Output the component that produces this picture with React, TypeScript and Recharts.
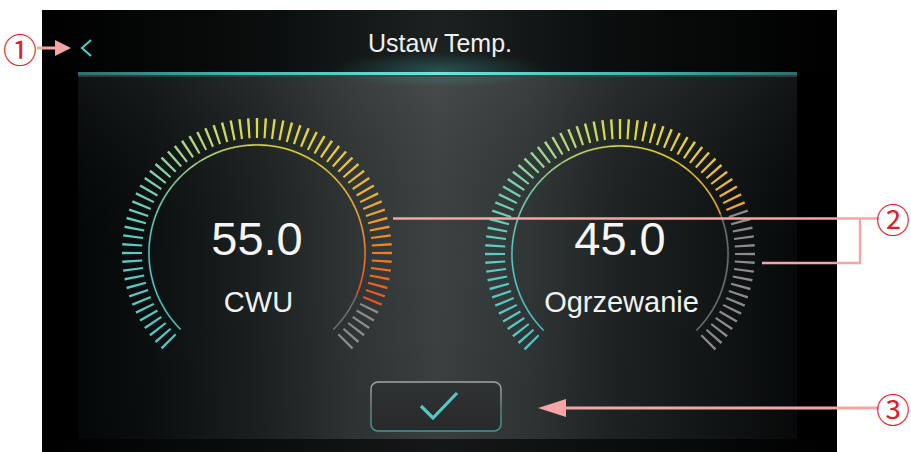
import React from 'react';
import { PieChart, Pie, Cell } from 'recharts';

const W = 911;
const H = 452;

// ---- data ----
const gaugeNames = ['CWU', 'Ogrzewanie'];
const gaugeValues = [55.0, 45.0];
const gaugeMin = 0;
const gaugeMax = 60;
const TICK_COUNT = 73;
const titleText = 'Ustaw Temp.';
const calloutLabels = ['①', '②', '③'];

// gauge geometry (layout)
const gaugeCenters = [
  { cx: 257, cy: 253 },
  { cx: 620, cy: 254 },
];
const START = 225;
const END = -45;
const TICK_W = 1.05;
const TICK_STEP = (START - END) / (TICK_COUNT - 1);

const colorStops: [number, string][] = [
  [0, '#4fc6c6'],
  [0.167, '#5acac4'],
  [0.278, '#72cfb0'],
  [0.333, '#90d49c'],
  [0.389, '#b0d880'],
  [0.444, '#c8da60'],
  [0.5, '#dcdc40'],
  [0.611, '#e8d232'],
  [0.722, '#f0b232'],
  [0.796, '#f0922c'],
  [0.833, '#f07c28'],
  [0.87, '#f06a24'],
  [0.907, '#ec5420'],
  [1, '#e84018'],
];

function hexToRgb(h: string) {
  const n = parseInt(h.slice(1), 16);
  return [(n >> 16) & 255, (n >> 8) & 255, n & 255];
}
function colorAt(f: number) {
  for (let i = 0; i < colorStops.length - 1; i++) {
    const [f0, c0] = colorStops[i];
    const [f1, c1] = colorStops[i + 1];
    if (f >= f0 && f <= f1) {
      const t = (f - f0) / (f1 - f0 || 1);
      const a = hexToRgb(c0);
      const b = hexToRgb(c1);
      const m = a.map((v, k) => Math.round(v + (b[k] - v) * t));
      return `rgb(${m[0]},${m[1]},${m[2]})`;
    }
  }
  return colorStops[colorStops.length - 1][1];
}

const tickSlots = Array.from({ length: TICK_COUNT }, (_, i) => ({ slot: i, size: 1 }));

export default function App() {
  const pies: React.ReactNode[] = [];
  gaugeValues.forEach((val, g) => {
    const { cx, cy } = gaugeCenters[g];
    const frac = (val - gaugeMin) / (gaugeMax - gaugeMin);
    pies.push(
      <Pie
        key={`ticks${g}`}
        data={tickSlots}
        dataKey="size"
        cx={cx}
        cy={cy}
        innerRadius={115}
        outerRadius={135}
        startAngle={START + TICK_W / 2}
        endAngle={END - TICK_W / 2}
        paddingAngle={TICK_STEP - TICK_W}
        stroke="none"
        isAnimationActive={false}
      >
        {tickSlots.map((t) => {
          const f = t.slot / (TICK_COUNT - 1);
          return <Cell key={t.slot} fill={f <= frac + 1e-6 ? colorAt(f) : '#8a8c8c'} />;
        })}
      </Pie>
    );
    pies.push(
      <Pie
        key={`arc${g}`}
        data={tickSlots}
        dataKey="size"
        cx={cx}
        cy={cy}
        innerRadius={107.4}
        outerRadius={108.7}
        startAngle={START}
        endAngle={END}
        paddingAngle={0}
        isAnimationActive={false}
      >
        {tickSlots.map((t) => {
          const fEnd = (t.slot + 1) / TICK_COUNT;
          const fMid = (t.slot + 0.5) / TICK_COUNT;
          const c = fEnd <= frac + 0.01 ? colorAt(fMid) : '#6e7272';
          return <Cell key={t.slot} fill={c} stroke={c} strokeWidth={0.3} />;
        })}
      </Pie>
    );
  });

  const pink = '#f4a6a6';
  const red = '#e0202c';

  return (
    <div style={{ position: 'absolute', left: 0, top: 0, width: W, height: H, background: '#fff', overflow: 'hidden' }}>
      {/* background */}
      <svg width={W} height={H} style={{ position: 'absolute', left: 0, top: 0 }}>
        <defs>
          <linearGradient id="panelH" x1="0" x2="1" y1="0" y2="0">
            <stop offset="0" stopColor="#040707" />
            <stop offset="0.1" stopColor="#0b0f0f" />
            <stop offset="0.25" stopColor="#1b2020" />
            <stop offset="0.38" stopColor="#2f3434" />
            <stop offset="0.5" stopColor="#3c4141" />
            <stop offset="0.63" stopColor="#303535" />
            <stop offset="0.75" stopColor="#1d2222" />
            <stop offset="0.89" stopColor="#111515" />
            <stop offset="1" stopColor="#070a0a" />
          </linearGradient>
          <linearGradient id="topH" x1="0" x2="1" y1="0" y2="0">
            <stop offset="0" stopColor="#000" />
            <stop offset="0.3" stopColor="#0c0f0f" />
            <stop offset="0.5" stopColor="#1c2121" />
            <stop offset="0.7" stopColor="#0c0f0f" />
            <stop offset="1" stopColor="#000" />
          </linearGradient>
          <linearGradient id="botH" x1="0" x2="1" y1="0" y2="0">
            <stop offset="0" stopColor="#000" />
            <stop offset="0.5" stopColor="#151818" />
            <stop offset="1" stopColor="#000" />
          </linearGradient>
          <linearGradient id="teal" x1="0" x2="1" y1="0" y2="0">
            <stop offset="0" stopColor="#2a7070" />
            <stop offset="0.2" stopColor="#3fb0ac" />
            <stop offset="0.5" stopColor="#72e4dc" />
            <stop offset="0.8" stopColor="#3fb0ac" />
            <stop offset="1" stopColor="#2a7070" />
          </linearGradient>
          <radialGradient id="glow" cx="0.5" cy="0.5" r="0.5">
            <stop offset="0" stopColor="#3fa8a2" stopOpacity="0.35" />
            <stop offset="1" stopColor="#3fa8a2" stopOpacity="0" />
          </radialGradient>
          <linearGradient id="vshade" x1="0" x2="0" y1="0" y2="1">
            <stop offset="0" stopColor="#ffffff" stopOpacity="0.05" />
            <stop offset="0.5" stopColor="#000" stopOpacity="0" />
            <stop offset="1" stopColor="#000" stopOpacity="0.05" />
          </linearGradient>
        </defs>
        <rect x={42} y={10} width={795} height={442} fill="#000" />
        <rect x={42} y={10} width={795} height={63} fill="url(#topH)" />
        <rect x={78} y={75} width={719} height={364} fill="url(#panelH)" />
        <rect x={78} y={75} width={719} height={364} fill="url(#vshade)" />
        <rect x={42} y={439} width={795} height={13} fill="url(#botH)" />
        <ellipse cx={440} cy={70} rx={110} ry={18} fill="url(#glow)" />
        <rect x={78} y={75} width={719} height={2} fill="#3a4242" opacity={0.8} />
        <rect x={78} y={72} width={719} height={3} fill="url(#teal)" />
      </svg>

      {/* gauges */}
      <div style={{ position: 'absolute', left: 0, top: 0 }}>
        <PieChart width={W} height={H} margin={{ top: 0, right: 0, bottom: 0, left: 0 }}>
          {pies}
        </PieChart>
      </div>

      {/* overlay: texts, button, callouts */}
      <svg width={W} height={H} style={{ position: 'absolute', left: 0, top: 0 }}>
        <defs>
          <linearGradient id="btnStroke" x1="0" x2="0" y1="0" y2="1">
            <stop offset="0" stopColor="#a0a4a4" />
            <stop offset="0.6" stopColor="#5a7676" />
            <stop offset="1" stopColor="#3a9a96" />
          </linearGradient>
          <linearGradient id="btnFill" x1="0" x2="0" y1="0" y2="1">
            <stop offset="0" stopColor="#303334" />
            <stop offset="1" stopColor="#27292b" />
          </linearGradient>
        </defs>
        <text x={440} y={51.5} textAnchor="middle" fontFamily="Liberation Sans, Arial, sans-serif" fontSize={25} fill="#f0f0f0">
          {titleText}
        </text>
        <polyline points="91,40 82,48 91,56" fill="none" stroke="#4fc8c2" strokeWidth={2.2} />

        {gaugeValues.map((v, g) => (
          <g key={g}>
            <text x={gaugeCenters[g].cx} y={255} textAnchor="middle" fontFamily="Liberation Sans, Arial, sans-serif" fontSize={47} fill="#f6f6f6">
              {v.toFixed(1)}
            </text>
            <text x={gaugeCenters[g].cx + 1.5} y={312} textAnchor="middle" fontFamily="Liberation Sans, Arial, sans-serif" fontSize={29} fill="#f2f2f2">
              {gaugeNames[g]}
            </text>
          </g>
        ))}

        <rect x={371} y={382} width={130} height={49} rx={7} fill="url(#btnFill)" stroke="url(#btnStroke)" strokeWidth={1.6} />
        <polyline points="421,406 433,418 457,393" fill="none" stroke="#56c8c4" strokeWidth={3.2} />

        {/* callout 1 */}
        <line x1={37} y1={48} x2={57} y2={48} stroke={pink} strokeWidth={3} />
        <polygon points="55,40 71,48 55,56" fill={pink} />
        <text x={20} y={48} textAnchor="middle" dominantBaseline="central" fontFamily="Noto Sans CJK JP" fontSize={34} fill={red}>
          {calloutLabels[0]}
        </text>

        {/* callout 2 */}
        <polyline points="393,218.5 879,218.5" fill="none" stroke={pink} strokeWidth={2.5} />
        <polyline points="860,218.5 860,263 762,263" fill="none" stroke={pink} strokeWidth={2.5} />
        <text x={893} y={218} textAnchor="middle" dominantBaseline="central" fontFamily="Noto Sans CJK JP" fontSize={34} fill={red}>
          {calloutLabels[1]}
        </text>

        {/* callout 3 */}
        <line x1={562} y1={408} x2={879} y2={408} stroke={pink} strokeWidth={3} />
        <polygon points="538,408 566,399 566,417" fill={pink} />
        <text x={893} y={408} textAnchor="middle" dominantBaseline="central" fontFamily="Noto Sans CJK JP" fontSize={34} fill={red}>
          {calloutLabels[2]}
        </text>
      </svg>
    </div>
  );
}
